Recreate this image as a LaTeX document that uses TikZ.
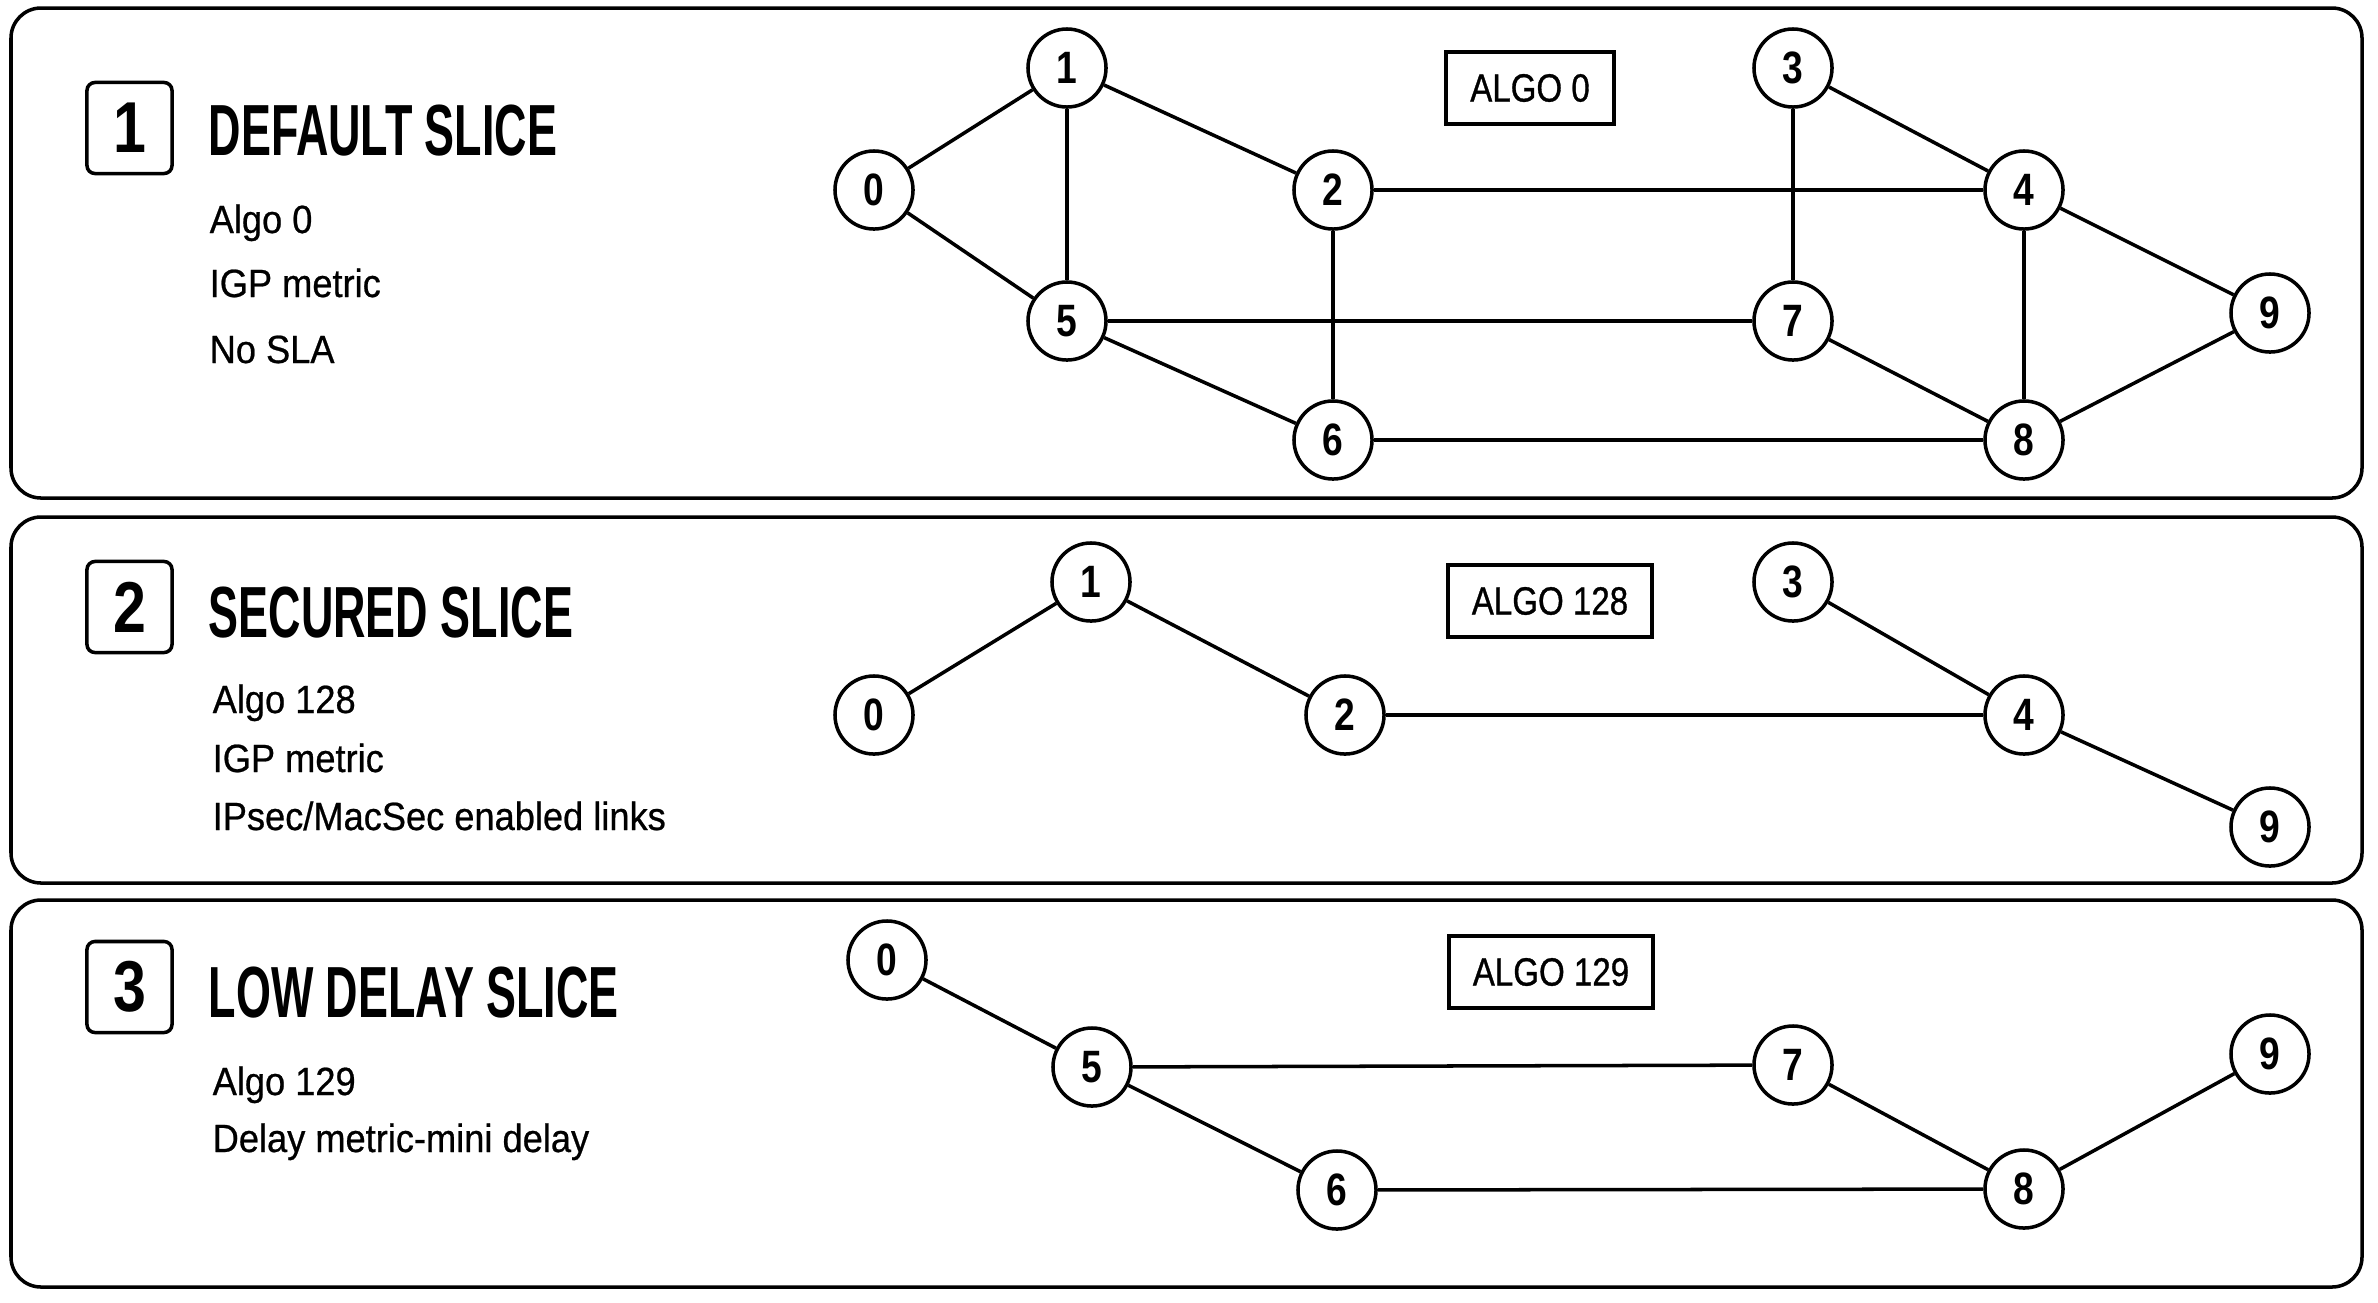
\documentclass[tikz,border=0pt]{standalone}
\usepackage{fontspec}
\setmainfont{Liberation Sans}[FakeStretch=0.92,FakeBold=0.6]
\newfontfamily\headfont{Liberation Sans}[FakeStretch=0.62]
\newfontfamily\nodefont{Liberation Sans}[FakeStretch=0.82]
\newfontfamily\algofont{Liberation Sans}[FakeStretch=0.84,FakeBold=0.8]
\begin{document}
\begin{tikzpicture}[x=0.01cm,y=-0.01cm,
  panel/.style={draw, line width=1pt, rounded corners=0.3cm},
  numbox/.style={draw, line width=1pt, rounded corners=0.08cm, minimum width=0.85cm, minimum height=0.91cm, inner sep=0pt, font=\nodefont\bfseries\fontsize{20.5}{24}\selectfont},
  head/.style={anchor=base west, inner sep=0pt, font=\headfont\bfseries\fontsize{20.6}{24}\selectfont},
  sub/.style={anchor=base west, inner sep=0pt, font=\fontsize{11.2}{13}\selectfont},
  vtx/.style={circle, draw, line width=1pt, fill=white, minimum size=0.78cm, inner sep=0pt, font=\nodefont\bfseries\fontsize{12.9}{14}\selectfont},
  algo/.style={draw, line width=1.1pt, minimum height=0.72cm, inner xsep=0.24cm, font=\algofont\fontsize{11.2}{13}\selectfont},
  link/.style={line width=1pt}
]
\useasboundingbox[fill=white] (0,0) rectangle (2378,1302);

% panels
\draw[panel] (11,8) rectangle (2362,498);
\draw[panel] (11,517) rectangle (2362,883);
\draw[panel] (11,900) rectangle (2362,1287);

% ---------- panel 1 ----------
\node[numbox] (n1) at (129.5,128) {1};
\node[head] (h1) at (208,155) {DEFAULT SLICE};
\node[sub] (s11) at (209,233) {Algo 0};
\node[sub] (s12) at (209,297) {IGP metric};
\node[sub] (s13) at (209,363) {No SLA};
\node[algo] (g1) at (1530,88) {ALGO 0};

\node[vtx] (a0) at (874,190) {0};
\node[vtx] (a1) at (1067,68) {1};
\node[vtx] (a2) at (1333,190) {2};
\node[vtx] (a3) at (1793,68) {3};
\node[vtx] (a4) at (2024,190) {4};
\node[vtx] (a5) at (1067,321) {5};
\node[vtx] (a6) at (1333,440) {6};
\node[vtx] (a7) at (1793,321) {7};
\node[vtx] (a8) at (2024,440) {8};
\node[vtx] (a9) at (2270,313) {9};

\draw[link] (a0) -- (a1);
\draw[link] (a0) -- (a5);
\draw[link] (a1) -- (a5);
\draw[link] (a1) -- (a2);
\draw[link] (a2) -- (a4);
\draw[link] (a2) -- (a6);
\draw[link] (a3) -- (a4);
\draw[link] (a3) -- (a7);
\draw[link] (a4) -- (a8);
\draw[link] (a4) -- (a9);
\draw[link] (a5) -- (a7);
\draw[link] (a5) -- (a6);
\draw[link] (a6) -- (a8);
\draw[link] (a7) -- (a8);
\draw[link] (a8) -- (a9);

% ---------- panel 2 ----------
\node[numbox] (n2) at (129.5,607) {2};
\node[head] (h2) at (208,637) {SECURED SLICE};
\node[sub] (s21) at (212,713) {Algo 128};
\node[sub] (s22) at (212,772) {IGP metric};
\node[sub] (s23) at (212,830) {IPsec/MacSec enabled links};
\node[algo] (g2) at (1550,601) {ALGO 128};

\node[vtx] (b0) at (874,715) {0};
\node[vtx] (b1) at (1091,582) {1};
\node[vtx] (b2) at (1345,715) {2};
\node[vtx] (b3) at (1793,582) {3};
\node[vtx] (b4) at (2024,715) {4};
\node[vtx] (b9) at (2270,827) {9};

\draw[link] (b0) -- (b1);
\draw[link] (b1) -- (b2);
\draw[link] (b2) -- (b4);
\draw[link] (b3) -- (b4);
\draw[link] (b4) -- (b9);

% ---------- panel 3 ----------
\node[numbox] (n3) at (129.5,987) {3};
\node[head] (h3) at (208,1017) {LOW DELAY SLICE};
\node[sub] (s31) at (212,1095) {Algo 129};
\node[sub] (s32) at (212,1152) {Delay metric-mini delay};
\node[algo] (g3) at (1551,972) {ALGO 129};

\node[vtx] (c0) at (887,960) {0};
\node[vtx] (c5) at (1092,1067) {5};
\node[vtx] (c6) at (1337,1190) {6};
\node[vtx] (c7) at (1793,1065) {7};
\node[vtx] (c8) at (2024,1189) {8};
\node[vtx] (c9) at (2270,1054) {9};

\draw[link] (c0) -- (c5);
\draw[link] (c5) -- (c7);
\draw[link] (c5) -- (c6);
\draw[link] (c6) -- (c8);
\draw[link] (c7) -- (c8);
\draw[link] (c8) -- (c9);
\end{tikzpicture}
\end{document}
